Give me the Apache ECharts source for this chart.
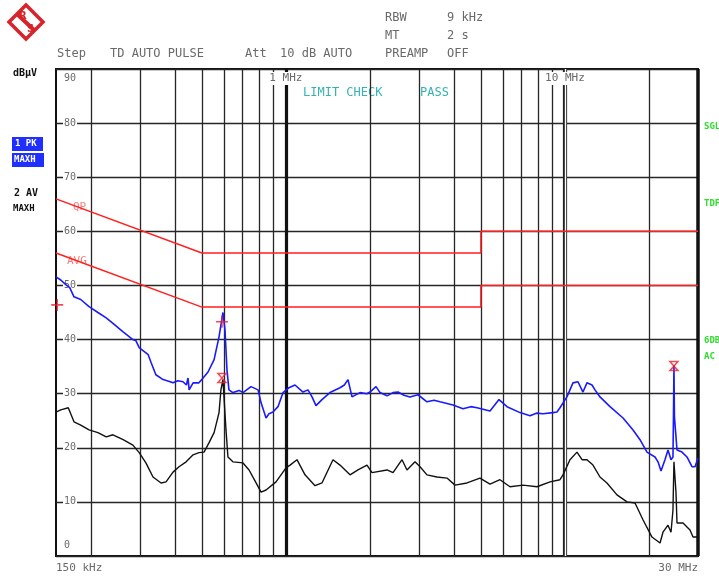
<!DOCTYPE html>
<html><head><meta charset="utf-8">
<script src="https://cdn.jsdelivr.net/npm/echarts@6/dist/echarts.min.js"></script>
<style>html,body{margin:0;padding:0;background:#fff}#c{width:719px;height:576px}</style>
</head><body><div id="c"></div>
<script>
// ---- data (frequency in MHz, level in dBuV) ----
const freqMinMHz = 0.15;
const freqMaxMHz = 30;
const levelMin = 0;
const levelMax = 90;
const gridFreqsMHz = [0.2,0.3,0.4,0.5,0.6,0.7,0.8,0.9,2,3,4,5,6,7,8,9,20];
const decadeFreqsMHz = [1, 10];
const qpLimit = [[0.15,66],[0.5,56],[5,56],[5,60],[30,60]];
const avgLimit = [[0.15,56],[0.5,46],[5,46],[5,50],[30,50]];
const pkTrace = [[0.150,51.6],[0.156,51.0],[0.163,50.1],[0.168,49.6],[0.174,47.9],[0.184,47.4],[0.197,46.1],[0.212,45.0],[0.227,44.0],[0.240,43.0],[0.261,41.4],[0.283,40.0],[0.290,39.8],[0.298,38.5],[0.321,37.2],[0.329,35.7],[0.342,33.5],[0.363,32.6],[0.380,32.3],[0.394,32.0],[0.410,32.4],[0.428,32.2],[0.440,31.6],[0.446,32.9],[0.450,30.7],[0.465,32.0],[0.488,32.0],[0.505,32.9],[0.526,34.0],[0.553,36.3],[0.576,40.5],[0.595,45.0],[0.605,41.8],[0.615,34.4],[0.625,30.7],[0.646,30.2],[0.680,30.6],[0.702,30.2],[0.750,31.3],[0.795,30.7],[0.815,28.3],[0.849,25.5],[0.870,26.3],[0.899,26.6],[0.937,27.6],[0.977,30.2],[1.026,31.1],[1.078,31.6],[1.152,30.3],[1.200,30.7],[1.241,29.4],[1.282,27.8],[1.347,28.9],[1.439,30.2],[1.563,31.1],[1.620,31.6],[1.670,32.6],[1.726,29.4],[1.843,30.2],[1.950,30.0],[2.002,30.3],[2.104,31.3],[2.175,30.2],[2.304,29.6],[2.420,30.2],[2.523,30.3],[2.650,29.7],[2.785,29.4],[2.976,29.8],[3.204,28.5],[3.400,28.8],[3.567,28.5],[3.971,27.9],[4.313,27.2],[4.600,27.6],[4.842,27.4],[5.391,26.8],[5.805,28.9],[6.203,27.6],[6.905,26.5],[7.499,25.9],[7.900,26.4],[8.347,26.3],[9.065,26.5],[9.369,26.6],[9.603,27.4],[10.17,29.4],[10.69,32.0],[11.14,32.2],[11.61,30.3],[12.00,32.0],[12.51,31.6],[12.82,30.7],[13.36,29.4],[14.51,27.6],[16.16,25.5],[17.55,23.3],[18.59,21.5],[19.69,19.2],[21.04,18.3],[21.57,17.4],[22.11,15.7],[22.84,17.8],[23.42,19.6],[24.01,17.8],[24.40,18.3],[24.50,25.7],[24.60,35.3],[24.70,25.7],[25.23,19.6],[26.29,19.2],[27.39,18.3],[28.55,16.5],[29.27,16.5],[30.00,18.1]];
const avTrace = [[0.150,26.6],[0.156,27.0],[0.166,27.4],[0.174,24.8],[0.184,24.2],[0.197,23.3],[0.212,22.8],[0.227,22.0],[0.240,22.4],[0.261,21.5],[0.283,20.5],[0.298,19.1],[0.315,17.2],[0.334,14.6],[0.357,13.5],[0.372,13.7],[0.394,15.5],[0.414,16.5],[0.439,17.4],[0.465,18.7],[0.488,19.1],[0.509,19.2],[0.530,20.9],[0.553,22.8],[0.576,26.5],[0.585,30.7],[0.595,32.6],[0.600,29.4],[0.610,23.3],[0.620,18.3],[0.646,17.4],[0.702,17.2],[0.738,15.9],[0.782,13.5],[0.815,11.8],[0.849,12.2],[0.922,13.7],[1.001,16.3],[1.035,16.8],[1.096,17.8],[1.171,15.0],[1.272,13.0],[1.347,13.5],[1.475,17.8],[1.563,16.8],[1.698,15.0],[1.813,15.9],[1.953,16.8],[2.036,15.4],[2.304,15.9],[2.421,15.4],[2.608,17.8],[2.717,15.9],[2.903,17.4],[3.026,16.5],[3.204,15.0],[3.480,14.6],[3.779,14.4],[4.038,13.1],[4.458,13.5],[4.962,14.4],[5.391,13.3],[5.854,14.1],[6.358,12.8],[7.077,13.1],[7.944,12.8],[8.844,13.7],[9.603,14.1],[9.845,15.0],[10.43,17.8],[11.05,19.2],[11.52,17.8],[12.00,17.8],[12.61,16.8],[13.36,14.6],[14.15,13.5],[15.37,11.3],[16.70,10.0],[17.84,9.8],[19.05,6.7],[20.52,3.5],[21.93,2.4],[22.47,4.4],[23.42,5.7],[24.01,4.4],[24.40,8.5],[24.60,17.4],[25.02,11.7],[25.23,6.1],[26.51,6.1],[28.08,4.8],[28.79,3.5],[30.00,3.5]];
const plusMarkers = [[0.590,43.3],[0.1515,46.4]];
const crossMarkers = [[0.590,32.9],[24.60,35.1]];

const MONO = '"DejaVu Sans Mono", "Liberation Mono", monospace';
const GRID_C = '#262626';
const TXT_C = '#6a6a6a';

const chart = echarts.init(document.getElementById('c'), null, {renderer:'canvas'});

const vLines = gridFreqsMHz.map(f => ({xAxis: f}))
  .concat([{xAxis: 1, lineStyle:{width:3.2, color:'#111'}}])
  .concat([{xAxis: 10, lineStyle:{width:4.2, color:'#222'}}, {xAxis: 10, lineStyle:{width:1.4, color:'#fff'}}])
  .concat([{xAxis: 30, lineStyle:{width:3.5, color:'#111'}}]);

function txt(x, y, s, opt) {
  return Object.assign({type:'text', x, y, silent:true, style: Object.assign({text:s, fill:TXT_C, font:'12px '+MONO, textVerticalAlign:'middle'}, opt||{})});
}

const yBase = {type:'value', min:levelMin, max:levelMax, interval:10, position:'left', axisLine:{show:false}, axisTick:{show:false}};

chart.setOption({
  animation:false,
  backgroundColor:'#fff',
  grid:{left:56, right:21, top:69, bottom:20, show:true, borderColor:'#111', borderWidth:2, backgroundColor:'#fff'},
  xAxis:[
    {type:'log', logBase:10, min:freqMinMHz, max:freqMaxMHz, position:'bottom',
     axisLine:{show:false}, axisTick:{show:false}, splitLine:{show:false},
     axisLabel:{showMinLabel:true, showMaxLabel:true, alignMinLabel:'left', alignMaxLabel:'right', margin:7,
       color:TXT_C, fontFamily:MONO, fontSize:11,
       formatter: v => (v < 0.2 ? '150 kHz' : (v > 29 ? '30 MHz' : ''))}},
    {type:'log', logBase:10, min:freqMinMHz, max:freqMaxMHz, position:'top', z:10,
     axisLine:{show:false}, axisTick:{show:false}, splitLine:{show:false},
     axisLabel:{inside:true, margin:3, showMinLabel:false, showMaxLabel:false, color:TXT_C, fontFamily:MONO, fontSize:11,
       backgroundColor:'#fff', padding:[1,2,1,2],
       formatter: v => (Math.abs(v-decadeFreqsMHz[0])<1e-6 ? '1 MHz' : (Math.abs(v-decadeFreqsMHz[1])<1e-6 ? '10 MHz' : ''))}}
  ],
  yAxis:[
    Object.assign({}, yBase, {splitLine:{show:true, lineStyle:{color:GRID_C, width:1.3}},
      axisLabel:{inside:true, margin:7, color:TXT_C, fontFamily:MONO, fontSize:10, backgroundColor:'#fff', padding:[0,1,0,1],
        formatter: v => (v===levelMin || v===levelMax) ? '' : String(v)}}),
    Object.assign({}, yBase, {splitLine:{show:false},
      axisLabel:{inside:true, margin:8, color:TXT_C, fontFamily:MONO, fontSize:10, verticalAlign:'top', padding:[4,0,0,0],
        showMinLabel:false, formatter: v => v===levelMax ? String(v) : ''}}),
    Object.assign({}, yBase, {splitLine:{show:false},
      axisLabel:{inside:true, margin:8, color:TXT_C, fontFamily:MONO, fontSize:10, verticalAlign:'bottom', padding:[0,0,6,0],
        showMaxLabel:false, formatter: v => v===levelMin ? String(v) : ''}})
  ],
  series:[
    {name:'QP limit', type:'line', xAxisIndex:0, yAxisIndex:0, data:qpLimit, symbol:'none', clip:false,
     lineStyle:{color:'#ff2020', width:1.5}, z:3,
     markLine:{silent:true, symbol:'none', animation:false, label:{show:false}, z:1,
       lineStyle:{color:GRID_C, width:1.3, type:'solid'}, emphasis:{disabled:true}, data:vLines}},
    {name:'AVG limit', type:'line', xAxisIndex:0, yAxisIndex:0, data:avgLimit, symbol:'none',
     lineStyle:{color:'#ff2020', width:1.5}, z:3},
    {name:'2 AV MAXH', type:'line', xAxisIndex:0, yAxisIndex:0, data:avTrace, symbol:'none',
     lineStyle:{color:'#111', width:1.4}, z:4},
    {name:'1 PK MAXH', type:'line', xAxisIndex:0, yAxisIndex:0, data:pkTrace, symbol:'none',
     lineStyle:{color:'#1a1aff', width:1.6}, z:5},
    {name:'plus markers', type:'scatter', xAxisIndex:0, yAxisIndex:0, data:plusMarkers, clip:false,
     symbol:'path://M5,0 L5,10 M0,5 L10,5', symbolSize:12,
     itemStyle:{color:'rgba(0,0,0,0)', borderColor:'#e8202a', borderWidth:1.6}, z:6},
    {name:'cross markers', type:'scatter', xAxisIndex:0, yAxisIndex:0, data:crossMarkers,
     symbol:'path://M0,0 L10,0 L0,10 L10,10 Z', symbolSize:[8,9],
     itemStyle:{color:'rgba(0,0,0,0)', borderColor:'#e8202a', borderWidth:1.5}, z:6}
  ],
  graphic:[
    // R&S logo
    {type:'polygon', shape:{points:[[26,5],[43,22],[26,39],[9,22]]}, style:{fill:'#fff', stroke:'#d8232a', lineWidth:3.5}, silent:true},
    {type:'line', shape:{x1:17, y1:14, x2:35, y2:31}, style:{stroke:'#d8232a', lineWidth:4}, silent:true},
    txt(19, 16, 'R', {fill:'#d8232a', font:'bold 10px "DejaVu Sans"'}),
    txt(27, 29, 'S', {fill:'#d8232a', font:'bold 10px "DejaVu Sans"'}),
    // header
    txt(385, 18, 'RBW'), txt(447, 18, '9 kHz'),
    txt(385, 36, 'MT'), txt(447, 36, '2 s'),
    txt(57, 54, 'Step'), txt(110, 54, 'TD AUTO PULSE'), txt(245, 54, 'Att'), txt(280, 54, '10 dB AUTO'),
    txt(385, 54, 'PREAMP'), txt(447, 54, 'OFF'),
    // left side panel
    txt(13, 73, 'dBµV', {fill:'#111', font:'bold 10px '+MONO}),
    {type:'rect', shape:{x:12, y:137, width:31, height:14}, style:{fill:'#1f2fff'}, silent:true},
    {type:'rect', shape:{x:12, y:153, width:32, height:14}, style:{fill:'#1f2fff'}, silent:true},
    txt(15, 144, '1 PK', {fill:'#fff', font:'bold 9px '+MONO}),
    txt(14, 160, 'MAXH', {fill:'#fff', font:'bold 9px '+MONO}),
    txt(14, 193, '2 AV', {fill:'#111', font:'bold 10px '+MONO}),
    txt(13, 209, 'MAXH', {fill:'#111', font:'bold 9px '+MONO}),
    // right side flags
    txt(704, 127, 'SGL', {fill:'#2edc2e', font:'bold 9px '+MONO}),
    txt(704, 204, 'TDF', {fill:'#2edc2e', font:'bold 9px '+MONO}),
    txt(704, 341, '6DB', {fill:'#2edc2e', font:'bold 9px '+MONO}),
    txt(704, 357, 'AC', {fill:'#2edc2e', font:'bold 9px '+MONO}),
    // limit check
    txt(303, 93, 'LIMIT CHECK', {fill:'#35b3b3', font:'12px '+MONO}),
    txt(420, 93, 'PASS', {fill:'#35b3b3', font:'12px '+MONO}),
    // limit line names
    txt(73, 207, 'QP', {fill:'#ff7a7a', font:'11px '+MONO}),
    txt(67, 261, 'AVG', {fill:'#ff7a7a', font:'11px '+MONO})
  ]
});
</script></body></html>
